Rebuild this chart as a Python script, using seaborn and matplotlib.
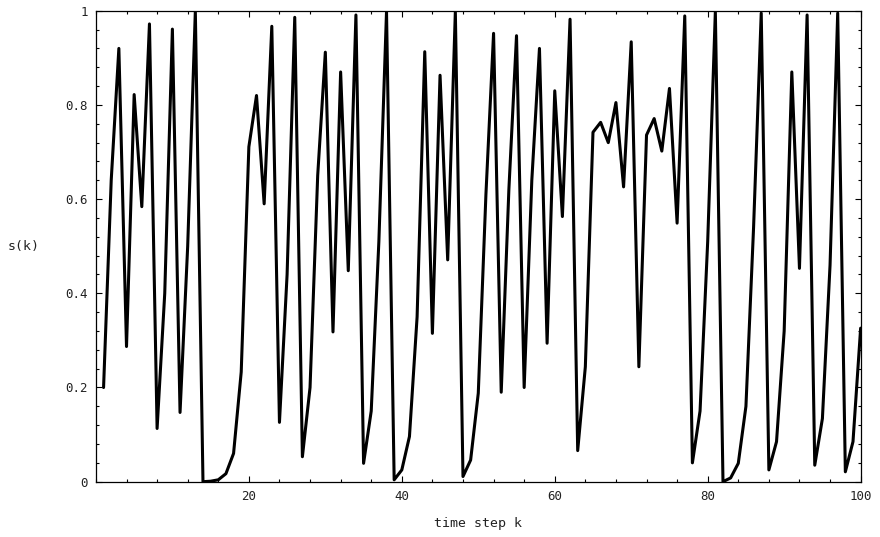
import numpy as np
import pandas as pd
import seaborn as sns
import matplotlib.pyplot as plt
from matplotlib.ticker import MultipleLocator

# data
k = list(range(1, 101))
s = [0.20, 0.64, 0.92, 0.287, 0.822, 0.584, 0.972, 0.113, 0.40, 0.961,
     0.147, 0.50, 0.999, 0.0, 0.001, 0.004, 0.017, 0.06, 0.233, 0.711,
     0.82, 0.59, 0.967, 0.126, 0.44, 0.986, 0.053, 0.20, 0.65, 0.912,
     0.318, 0.87, 0.448, 0.991, 0.039, 0.15, 0.51, 0.998, 0.004, 0.025,
     0.096, 0.35, 0.913, 0.315, 0.863, 0.471, 0.998, 0.011, 0.046, 0.188,
     0.61, 0.952, 0.19, 0.62, 0.947, 0.20, 0.64, 0.92, 0.294, 0.83,
     0.563, 0.982, 0.066, 0.244, 0.742, 0.763, 0.72, 0.805, 0.626, 0.934,
     0.244, 0.736, 0.771, 0.702, 0.835, 0.549, 0.989, 0.04, 0.15, 0.51,
     0.998, 0.0, 0.008, 0.039, 0.16, 0.54, 0.995, 0.025, 0.085, 0.32,
     0.87, 0.453, 0.991, 0.035, 0.134, 0.46, 0.995, 0.021, 0.085, 0.326]

x_ticks = [20, 40, 60, 80, 100]
y_ticks = [0, 0.2, 0.4, 0.6, 0.8, 1]
y_labels = ["0", "0.2", "0.4", "0.6", "0.8", "1"]

df = pd.DataFrame({"k": k, "s": s})

sns.set_style("ticks")
plt.rcParams["font.family"] = ["DejaVu Sans Mono"]

fig = plt.figure(figsize=(8.8, 5.37), dpi=100)
ax = fig.add_axes([0.109, 0.103, 0.869, 0.877])

sns.lineplot(data=df, x="k", y="s", color="black", linewidth=2.2, ax=ax)

ax.set_xlim(0, 100)
ax.set_ylim(0, 1)
ax.set_xticks(x_ticks)
ax.set_xticklabels([str(t) for t in x_ticks])
ax.set_yticks(y_ticks)
ax.set_yticklabels(y_labels)
ax.xaxis.set_minor_locator(MultipleLocator(4))
ax.yaxis.set_minor_locator(MultipleLocator(0.04))

ax.tick_params(which="both", direction="in", top=True, right=True,
               width=0.8, color="black", labelsize=9, labelcolor="#222222")
ax.tick_params(which="major", length=4.5, pad=6)
ax.tick_params(which="minor", length=2.2)
for sp in ax.spines.values():
    sp.set_linewidth(0.9)
    sp.set_color("black")

ax.set_xlabel("time step k", fontsize=9.5, color="#222222", labelpad=10)
ax.set_ylabel("s(k)", fontsize=9.5, color="#222222", rotation=0,
              labelpad=30, va="center")

fig.savefig("out.png", dpi=100)
